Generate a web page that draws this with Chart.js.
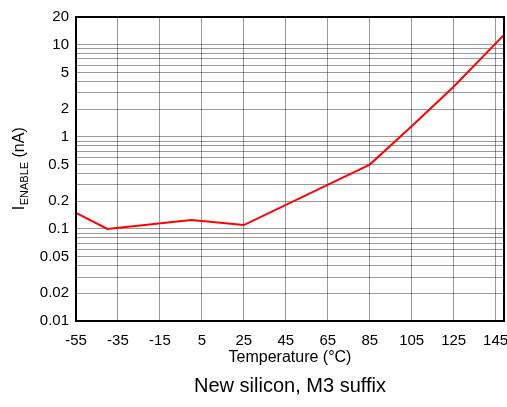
<!DOCTYPE html>
<html>
<head>
<meta charset="utf-8">
<script src="https://cdn.jsdelivr.net/npm/chart.js@4.4.0/dist/chart.umd.min.js"></script>
<style>
  html, body { margin: 0; padding: 0; background: #fff; }
  #wrap { width: 507px; height: 407px; position: relative; }
</style>
</head>
<body>
<div id="wrap"><canvas id="enableChart"></canvas></div>
<script>
const temps = [-55, -40, 0, 25, 85, 105, 125, 149];
const currents = [0.149, 0.1, 0.125, 0.11, 0.5, 1.3, 3.5, 12.8];
const xTicks = [-55, -35, -15, 5, 25, 45, 65, 85, 105, 125, 145];
const yLabels = [0.01, 0.02, 0.05, 0.1, 0.2, 0.5, 1, 2, 5, 10, 20];

const FONT = "'Liberation Sans', Arial, sans-serif";

// grid lines at 1..9 x 10^n between 0.01 and 20
const yGrid = [];
[0.01, 0.1, 1, 10].forEach((d) => {
  for (let m = 1; m <= 9; m++) {
    const v = +(m * d).toPrecision(3);
    if (v <= 20) yGrid.push(v);
  }
});

const framePlugin = {
  id: "frame",
  afterDraw(chart) {
    const { ctx, chartArea: a } = chart;
    ctx.save();
    ctx.strokeStyle = "#000";
    ctx.lineWidth = 2;
    ctx.strokeRect(a.left, a.top, a.right - a.left, a.bottom - a.top);

    // y axis title, I with subscript ENABLE
    ctx.fillStyle = "#000";
    ctx.textBaseline = "alphabetic";
    const big = "16px " + FONT;
    const small = "11px " + FONT;
    ctx.font = big;
    const wI = ctx.measureText("I").width;
    const wU = ctx.measureText(" (nA)").width;
    ctx.font = small;
    const wS = ctx.measureText("ENABLE").width;
    const total = wI + wS + wU;
    ctx.translate(24, (a.top + a.bottom) / 2);
    ctx.rotate(-Math.PI / 2);
    let x = -total / 2;
    ctx.font = big;
    ctx.fillText("I", x, 0);
    x += wI + 0.5;
    ctx.font = small;
    ctx.fillText("ENABLE", x, 4);
    x += wS;
    ctx.font = big;
    ctx.fillText(" (nA)", x, 0);
    ctx.restore();

    // x axis title and caption
    ctx.save();
    ctx.fillStyle = "#000";
    ctx.textAlign = "center";
    ctx.textBaseline = "middle";
    const cx = (a.left + a.right) / 2;
    ctx.font = "16px " + FONT;
    ctx.fillText("Temperature (\u00B0C)", cx, 358);
    ctx.font = "20px " + FONT;
    ctx.fillText("New silicon, M3 suffix", cx, 386);
    ctx.restore();
  },
};

new Chart(document.getElementById("enableChart"), {
  type: "line",
  data: {
    datasets: [
      {
        data: temps.map((t, i) => ({ x: t, y: currents[i] })),
        borderColor: "#ff0000",
        borderWidth: 2,
        pointRadius: 0,
        tension: 0,
      },
    ],
  },
  options: {
    responsive: true,
    maintainAspectRatio: false,
    animation: false,
    layout: { padding: { top: 17, right: 3, left: 0, bottom: 0 } },
    plugins: { legend: { display: false }, tooltip: { enabled: false } },
    scales: {
      x: {
        type: "linear",
        min: -55,
        max: 149,
        afterBuildTicks: (s) => {
          s.ticks = xTicks.map((v) => ({ value: v }));
        },
        afterFit: (s) => {
          s.height = 86;
          s.paddingLeft = 0;
          s.paddingRight = 0;
        },
        grid: { color: "rgba(0,0,0,0.4)", lineWidth: 1, drawTicks: false },
        border: { display: false },
        ticks: {
          color: "#000",
          font: { family: FONT, size: 15 },
          padding: 11,
          maxRotation: 0,
          autoSkip: false,
        },
      },
      y: {
        type: "logarithmic",
        min: 0.01,
        max: 20,
        afterBuildTicks: (s) => {
          s.ticks = yGrid.map((v) => ({ value: v }));
        },
        afterFit: (s) => {
          s.width = 76;
        },
        grid: { color: "rgba(0,0,0,0.4)", lineWidth: 1, drawTicks: false },
        border: { display: false },
        ticks: {
          color: "#000",
          font: { family: FONT, size: 15 },
          padding: 7,
          autoSkip: false,
          callback: (v) => (yLabels.some((l) => Math.abs(l - v) < 1e-9) ? String(v) : ""),
        },
      },
    },
  },
  plugins: [framePlugin],
});
</script>
</body>
</html>
